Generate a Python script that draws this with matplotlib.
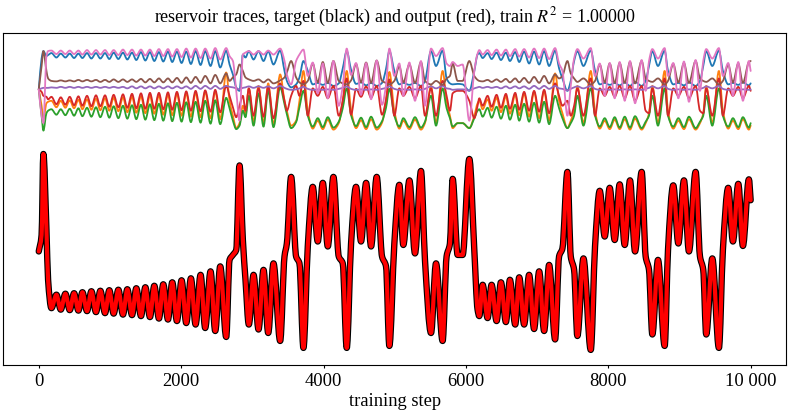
import numpy as np
import matplotlib
matplotlib.use("Agg")
import matplotlib.pyplot as plt
from matplotlib.path import Path
from matplotlib.patches import PathPatch
from matplotlib.ticker import FuncFormatter

plt.rcParams["font.family"] = "serif"
plt.rcParams["font.serif"] = ["Liberation Serif", "DejaVu Serif"]
plt.rcParams["mathtext.fontset"] = "stix"

# training steps at which the curves were read (turning points of the target)
steps = [
    # start
    0, 40, 65, 108, 131, 178,
    # first slow oscillation
    248, 309, 374, 435, 496, 557, 613, 678, 739, 804, 865, 931, 991, 1052,
    1118, 1183, 1244, 1310, 1370, 1436, 1497, 1562, 1623, 1688, 1749, 1815,
    1875, 1941, 2006, 2072, 2137, 2203, 2273, 2338, 2413, 2479, 2549, 2633,
    # transition
    2680, 2727, 2774, 2820, 2867, 2904, 2951, 3017, 3087, 3157, 3223, 3297,
    3391, 3452, 3485, 3545, 3615, 3662, 3718,
    # upper wing
    3779, 3849, 3919, 3990, 4060, 4139, 4214, 4270, 4326, 4387, 4457, 4527,
    4598, 4668, 4747, 4822, 4878, 4925,
    4995, 5065, 5121, 5206, 5285, 5369, 5425, 5510, 5580, 5673, 5729, 5776,
    5814, 5884, 5954, 6048, 6118, 6164, 6188,
    # second slow oscillation
    6235, 6305, 6361, 6431, 6492, 6562, 6618, 6693, 6749, 6818, 6888, 6958,
    7029, 7099, 7169, 7253,
    # end
    7309, 7356, 7426, 7473, 7520, 7566, 7651, 7754, 7814, 7880, 7950, 8020,
    8090, 8160, 8231, 8305, 8376, 8469, 8525, 8572, 8619, 8698, 8792, 8839,
    8913, 8984, 9063, 9133, 9227, 9288, 9334, 9376, 9461, 9554, 9610, 9685,
    9751, 9826, 9891, 9975, 10000,
]

target = [
    -0.3, 3.0, 19.3, 4.0, -6.0, -11.7,
    -9.0, -12.0, -8.8, -12.1, -8.7, -12.2, -8.5, -12.3, -8.3, -12.5, -8.2, -12.7,
    -8.1, -12.8, -8.0, -13.0, -7.9, -13.1, -7.7, -13.3, -7.5, -13.5, -7.2, -13.8,
    -6.9, -14.0, -6.5, -14.3, -6.1, -14.7, -5.7, -15.0, -5.0, -15.7, -4.3, -16.3,
    -3.3, -17.5,
    -2.0, -1.0, 0.0, 17.0, 2.0, -6.0, -15.0, -5.0, -16.0, -4.0, -16.7, -2.7,
    -18.3, -1.3, 1.3, 14.7, -1.3, -2.7, -19.7,
    0.7, 12.7, 1.7, 13.5, 0.7, 14.7, -1.3, -2.7, -19.7, 1.3, 12.7, 1.7,
    13.5, 0.7, 14.7, -1.3, -3.3, -19.3,
    1.3, 13.1, 1.0, 14.0, -0.7, 15.9, -2.0, -16.7, -2.7, -18.3, -1.3, 1.3,
    14.3, -1.0, -1.0, 18.3, 0.0, -12.0, -13.3,
    -7.0, -13.7, -7.0, -14.3, -6.5, -14.5, -6.0, -15.0, -5.5, -15.0, -5.0, -15.9,
    -4.3, -16.3, -3.0, -18.0,
    -1.3, 0.3, 15.7, -1.3, -4.0, -17.3, -1.7, -20.1, 0.7, 11.9, 2.7, 12.5,
    2.0, 13.2, 1.0, 14.0, -0.3, 15.7, -1.3, -4.0, -17.0, -2.0, -19.3, 0.0,
    13.0, 1.3, 14.0, -0.3, 15.7, -1.3, -4.0, -17.0, -1.7, -19.7, 0.0, 12.5,
    1.7, 13.3, 0.8, 14.2, 10.0,
]

# output of the trained readout (train R^2 = 1.00000)
output = list(target)

blue = [
    32.3, 38.5, 40.0, 39.0, 39.2, 39.6,
    38.7, 39.5, 38.7, 39.5, 38.6, 39.5, 38.6, 39.6, 38.5, 39.6, 38.5, 39.6,
    38.4, 39.7, 38.4, 39.7, 38.3, 39.7, 38.2, 39.8, 38.1, 39.8, 38.0, 39.8,
    37.9, 39.9, 37.8, 39.9, 37.6, 39.9, 37.4, 40.0, 37.2, 40.0, 37.0, 40.0,
    36.7, 40.1,
    37.3, 35.3, 32.7, 32.0, 39.3, 38.7, 40.0, 38.3, 40.0, 38.0, 40.0, 37.3,
    40.1, 36.0, 34.0, 32.7, 33.3, 34.7, 38.0,
    36.0, 33.3, 33.6, 33.2, 33.6, 33.0, 33.5, 36.5, 40.0, 36.2, 33.4, 33.7,
    33.1, 33.6, 33.0, 33.6, 36.4, 40.0,
    36.0, 33.3, 33.6, 33.2, 33.6, 33.0, 34.0, 40.0, 37.0, 40.1, 34.5, 33.5,
    33.3, 33.4, 33.3, 32.0, 36.0, 39.3, 39.6,
    38.6, 39.6, 38.4, 39.7, 38.2, 39.7, 38.0, 39.8, 37.8, 39.9, 37.5, 39.9,
    37.3, 40.0, 37.0, 40.1,
    36.5, 34.5, 32.0, 34.0, 38.0, 40.0, 37.0, 40.1, 36.0, 33.3, 33.6, 33.2,
    33.6, 33.1, 33.7, 33.0, 33.8, 33.0, 34.0, 37.0, 40.0, 37.0, 40.1, 36.0,
    33.3, 33.6, 33.1, 33.7, 33.0, 34.0, 37.0, 40.0, 37.0, 40.1, 36.0, 33.3,
    33.6, 33.2, 33.7, 33.1, 33.5,
]

orange = [
    32.3, 29.0, 26.3, 29.5, 29.8, 30.0,
    28.7, 30.0, 28.6, 30.1, 28.5, 30.2, 28.3, 30.3, 28.2, 30.4, 28.1, 30.5,
    28.0, 30.6, 27.9, 30.7, 27.7, 30.8, 27.6, 30.9, 27.5, 31.0, 27.4, 31.1,
    27.2, 31.2, 27.1, 31.4, 27.0, 31.5, 26.8, 31.6, 26.7, 31.8, 26.5, 31.9,
    26.3, 35.7,
    30.0, 27.0, 24.5, 25.5, 29.0, 27.5, 32.5, 25.8, 33.0, 25.5, 33.5, 25.3,
    35.3, 30.0, 28.0, 25.0, 26.0, 30.0, 36.0,
    28.0, 24.4, 26.0, 24.3, 26.2, 24.2, 25.5, 30.0, 36.0, 28.2, 24.5, 26.1,
    24.3, 26.3, 24.2, 25.6, 30.2, 35.8,
    28.0, 24.4, 26.0, 24.3, 26.2, 24.2, 25.5, 33.0, 25.5, 36.0, 30.0, 27.0,
    24.5, 25.5, 25.5, 24.5, 27.0, 29.5, 30.0,
    28.3, 30.3, 28.0, 30.6, 27.7, 30.9, 27.4, 31.2, 27.1, 31.5, 26.8, 31.8,
    26.5, 32.0, 26.0, 35.5,
    30.0, 27.5, 24.5, 26.0, 28.0, 33.0, 25.5, 36.0, 28.0, 24.4, 26.0, 24.3,
    26.2, 24.3, 26.3, 24.2, 26.4, 24.2, 25.5, 27.5, 33.0, 25.5, 36.0, 28.0,
    24.4, 26.0, 24.3, 26.3, 24.2, 25.5, 27.5, 33.0, 25.5, 36.0, 28.0, 24.4,
    26.0, 24.3, 26.3, 24.2, 25.0,
]

green = [
    32.3, 27.0, 24.0, 27.5, 28.0, 28.3,
    27.2, 28.3, 27.1, 28.4, 27.0, 28.5, 26.9, 28.6, 26.8, 28.7, 26.7, 28.8,
    26.6, 28.9, 26.5, 29.0, 26.4, 29.1, 26.3, 29.2, 26.2, 29.3, 26.1, 29.4,
    26.0, 29.5, 25.9, 29.6, 25.8, 29.7, 25.7, 29.8, 25.6, 30.0, 25.4, 30.1,
    25.3, 30.6,
    28.5, 26.0, 24.3, 25.0, 28.0, 26.7, 31.0, 25.0, 31.5, 24.8, 32.0, 24.7,
    32.7, 29.3, 27.3, 24.5, 25.7, 28.7, 32.0,
    27.0, 24.8, 26.5, 24.7, 26.7, 24.6, 25.8, 28.5, 32.5, 27.1, 24.9, 26.6,
    24.7, 26.8, 24.6, 25.9, 28.6, 32.4,
    27.0, 24.8, 26.5, 24.7, 26.7, 24.6, 25.8, 31.0, 25.0, 32.5, 28.5, 26.5,
    24.8, 25.5, 25.5, 24.5, 26.5, 28.0, 28.3,
    26.8, 28.6, 26.6, 28.8, 26.4, 29.0, 26.2, 29.2, 26.0, 29.4, 25.8, 29.6,
    25.6, 29.8, 25.3, 31.0,
    28.5, 26.5, 24.5, 25.5, 27.0, 31.0, 25.0, 32.5, 27.0, 24.8, 26.5, 24.7,
    26.7, 24.6, 26.8, 24.6, 26.9, 24.5, 25.8, 27.0, 31.0, 25.0, 32.5, 27.0,
    24.8, 26.5, 24.7, 26.8, 24.5, 25.8, 27.0, 31.0, 25.0, 32.5, 27.0, 24.8,
    26.5, 24.7, 26.7, 24.6, 25.5,
]

red = [
    32.3, 31.8, 31.0, 30.8, 30.3, 30.8,
    29.3, 30.7, 29.2, 30.8, 29.1, 30.9, 29.0, 31.0, 28.9, 31.1, 28.9, 31.1,
    28.8, 31.2, 28.7, 31.3, 28.6, 31.4, 28.5, 31.5, 28.4, 31.6, 28.4, 31.6,
    28.3, 31.7, 28.2, 31.8, 28.1, 31.9, 28.0, 32.0, 27.9, 32.1, 27.8, 32.2,
    27.7, 33.0,
    31.0, 28.7, 26.7, 29.0, 31.0, 28.0, 32.5, 27.0, 32.5, 26.8, 32.8, 26.5,
    33.5, 30.0, 28.0, 31.0, 33.0, 31.0, 34.0,
    27.0, 32.5, 31.0, 32.8, 30.5, 33.0, 27.0, 30.0, 34.5, 27.2, 32.4, 30.8,
    32.9, 30.6, 33.0, 27.2, 30.2, 34.3,
    27.0, 32.5, 31.0, 32.8, 30.5, 33.0, 27.0, 32.5, 27.0, 34.0, 31.0, 28.0,
    31.5, 32.0, 32.0, 30.0, 26.5, 29.0, 30.5,
    29.0, 31.0, 28.8, 31.2, 28.6, 31.4, 28.4, 31.6, 28.2, 31.8, 28.0, 32.0,
    27.8, 32.2, 27.5, 33.5,
    31.0, 29.0, 30.0, 27.0, 29.0, 32.5, 27.0, 34.5, 27.0, 32.5, 31.0, 32.8,
    30.8, 33.0, 30.5, 33.0, 30.0, 33.0, 28.0, 27.5, 32.5, 27.0, 34.5, 27.0,
    32.5, 31.0, 32.8, 30.5, 33.0, 28.0, 27.5, 32.5, 27.0, 34.5, 27.0, 32.5,
    31.0, 32.8, 30.5, 33.0, 32.0,
]

purple = [
    32.3, 32.5, 32.6, 32.6, 32.6, 32.7,
    32.6, 32.8, 32.6, 32.8, 32.6, 32.8, 32.6, 32.8, 32.6, 32.8, 32.6, 32.8,
    32.6, 32.8, 32.6, 32.8, 32.5, 32.9, 32.5, 32.9, 32.5, 32.9, 32.5, 32.9,
    32.5, 32.9, 32.5, 32.9, 32.5, 32.9, 32.4, 33.0, 32.4, 33.0, 32.4, 33.0,
    32.4, 33.0,
    32.8, 32.7, 32.5, 32.3, 32.6, 32.7, 32.9, 32.6, 32.9, 32.6, 32.9, 32.5,
    33.0, 32.6, 32.4, 32.2, 32.3, 32.5, 32.8,
    32.4, 32.2, 32.3, 32.2, 32.3, 32.2, 32.4, 32.6, 32.9, 32.4, 32.2, 32.3,
    32.2, 32.3, 32.2, 32.4, 32.6, 32.9,
    32.4, 32.2, 32.3, 32.2, 32.3, 32.2, 32.4, 32.9, 32.5, 33.0, 32.5, 32.4,
    32.2, 32.3, 32.3, 32.1, 32.5, 32.7, 32.8,
    32.6, 32.8, 32.6, 32.8, 32.5, 32.9, 32.5, 32.9, 32.5, 32.9, 32.4, 33.0,
    32.4, 33.0, 32.4, 33.0,
    32.5, 32.4, 32.1, 32.4, 32.7, 32.9, 32.5, 33.0, 32.4, 32.2, 32.3, 32.2,
    32.3, 32.2, 32.3, 32.2, 32.3, 32.2, 32.4, 32.6, 32.9, 32.5, 33.0, 32.4,
    32.2, 32.3, 32.2, 32.3, 32.2, 32.4, 32.6, 32.9, 32.5, 33.0, 32.4, 32.2,
    32.3, 32.2, 32.3, 32.2, 32.3,
]

brown = [
    32.3, 37.0, 40.0, 36.0, 34.5, 34.0,
    33.9, 34.1, 33.9, 34.1, 33.9, 34.2, 33.9, 34.2, 33.9, 34.2, 33.8, 34.2,
    33.8, 34.3, 33.8, 34.3, 33.8, 34.3, 33.8, 34.4, 33.7, 34.4, 33.7, 34.5,
    33.7, 34.5, 33.7, 34.6, 33.6, 34.7, 33.6, 34.8, 33.6, 35.0, 33.5, 35.2,
    33.5, 35.5,
    34.0, 34.7, 35.3, 37.3, 36.0, 34.7, 34.3, 34.0, 34.3, 33.7, 34.3, 33.5,
    34.1, 34.7, 35.7, 38.0, 34.7, 33.7, 33.3,
    34.0, 37.5, 33.7, 37.8, 33.6, 38.0, 34.0, 33.5, 33.3, 34.1, 37.4, 33.7,
    37.7, 33.6, 38.1, 34.0, 33.6, 33.3,
    34.0, 37.0, 33.7, 37.3, 33.6, 37.8, 34.0, 33.3, 34.0, 33.2, 34.5, 35.0,
    37.5, 34.0, 34.0, 38.0, 35.0, 34.2, 34.0,
    33.9, 34.2, 33.8, 34.3, 33.8, 34.4, 33.7, 34.5, 33.7, 34.6, 33.6, 34.8,
    33.6, 35.0, 33.5, 35.3,
    34.5, 35.0, 38.0, 35.5, 34.5, 33.8, 34.5, 33.3, 34.0, 37.3, 33.7, 37.5,
    33.6, 37.6, 33.6, 37.8, 33.5, 38.0, 34.5, 34.0, 33.8, 34.5, 33.3, 34.0,
    37.4, 33.7, 37.6, 33.6, 38.0, 34.5, 34.0, 33.8, 34.5, 33.3, 34.0, 37.3,
    33.7, 37.5, 33.6, 37.8, 38.0,
]

pink = [
    32.3, 27.0, 25.5, 39.0, 40.0, 40.1,
    39.4, 40.1, 39.4, 40.1, 39.4, 40.1, 39.3, 40.2, 39.3, 40.2, 39.3, 40.2,
    39.2, 40.2, 39.2, 40.3, 39.2, 40.3, 39.1, 40.3, 39.1, 40.3, 39.0, 40.4,
    39.0, 40.4, 38.9, 40.4, 38.8, 40.5, 38.7, 40.5, 38.6, 40.5, 38.5, 40.6,
    38.3, 40.6,
    39.0, 38.0, 32.0, 26.0, 39.3, 39.7, 40.0, 39.3, 40.0, 39.3, 40.1, 39.3,
    40.5, 38.0, 35.3, 33.3, 38.0, 39.3, 40.3,
    35.0, 37.7, 31.5, 37.5, 30.5, 38.0, 29.0, 33.0, 40.5, 35.2, 37.6, 31.2,
    37.6, 30.3, 38.1, 29.2, 33.2, 40.5,
    35.0, 37.5, 31.0, 37.7, 30.0, 38.0, 29.0, 40.5, 39.0, 40.6, 37.5, 37.0,
    37.8, 37.0, 37.3, 26.0, 36.0, 39.5, 40.2,
    39.3, 40.2, 39.2, 40.3, 39.1, 40.3, 39.0, 40.4, 38.9, 40.4, 38.7, 40.5,
    38.6, 40.5, 38.4, 40.6,
    37.5, 36.0, 27.0, 33.0, 38.5, 40.4, 38.5, 40.6, 35.0, 37.5, 31.0, 37.6,
    30.5, 37.8, 30.0, 38.0, 29.5, 38.2, 32.0, 38.0, 40.4, 38.5, 40.6, 35.0,
    37.6, 30.5, 37.9, 29.8, 38.2, 32.0, 38.0, 40.4, 38.5, 40.6, 35.0, 37.6,
    31.0, 37.8, 30.0, 38.0, 36.0,
]

traces = [blue, orange, green, red, purple, brown, pink]
colors = ["tab:blue", "tab:orange", "tab:green", "tab:red",
          "tab:purple", "tab:brown", "tab:pink"]


def smooth_line(ax, x, y, **kw):
    """Draw a smooth curve through the read points (monotone cubic Bezier)."""
    x = np.asarray(x, float)
    y = np.asarray(y, float)
    h = np.diff(x)
    d = np.diff(y) / h
    m = np.zeros_like(y)
    for i in range(1, len(y) - 1):
        if d[i - 1] * d[i] > 0:
            w1 = 2 * h[i] + h[i - 1]
            w2 = h[i] + 2 * h[i - 1]
            m[i] = (w1 + w2) / (w1 / d[i - 1] + w2 / d[i])
    m[0], m[-1] = d[0], d[-1]
    verts = [(x[0], y[0])]
    codes = [Path.MOVETO]
    for i in range(len(x) - 1):
        verts += [(x[i] + h[i] / 3, y[i] + m[i] * h[i] / 3),
                  (x[i + 1] - h[i] / 3, y[i + 1] - m[i + 1] * h[i] / 3),
                  (x[i + 1], y[i + 1])]
        codes += [Path.CURVE4] * 3
    ax.add_patch(PathPatch(Path(verts, codes), fill=False,
                           capstyle="round", joinstyle="round", **kw))
    ax.update_datalim(np.column_stack([x, y]))


fig, ax = plt.subplots(figsize=(7.91, 4.15), dpi=100)
fig.subplots_adjust(left=0.004, right=0.994, top=0.9205, bottom=0.1205)

for tr, c in zip(traces, colors):
    smooth_line(ax, steps, tr, edgecolor=c, lw=1.3)

smooth_line(ax, steps, target, edgecolor="black", lw=4.6)
smooth_line(ax, steps, output, edgecolor="red", lw=3.0)
ax.autoscale_view()

ax.set_yticks([])
ax.set_xticks([0, 2000, 4000, 6000, 8000, 10000])
ax.xaxis.set_major_formatter(
    FuncFormatter(lambda x, p: f"{int(x):,}".replace(",", " ") if x >= 10000 else f"{int(x)}"))
ax.tick_params(labelsize=13.3, length=2.5)
ax.set_xlabel("training step", fontsize=13.3, labelpad=2)
ax.set_title(r"reservoir traces, target (black) and output (red), train $R^2$ = 1.00000",
             fontsize=13, pad=8)

fig.savefig("out.png", dpi=100)
